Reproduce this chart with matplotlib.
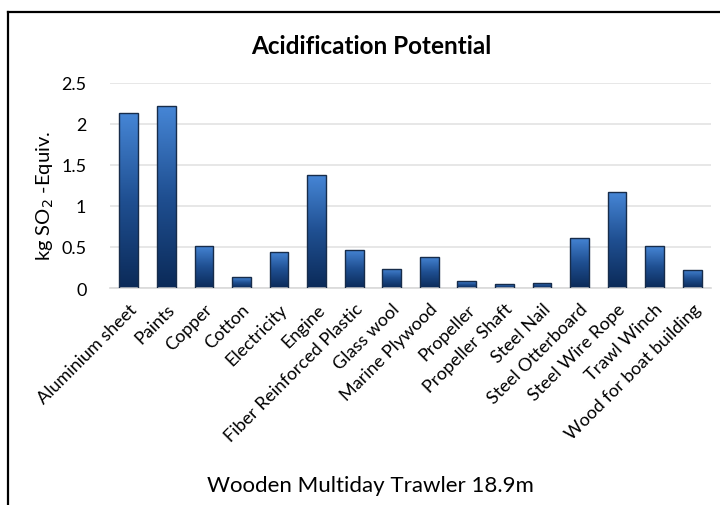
import matplotlib
matplotlib.use("Agg")
import matplotlib.pyplot as plt
import numpy as np
from matplotlib.colors import LinearSegmentedColormap
from matplotlib.lines import Line2D

categories = ["Aluminium sheet", "Paints", "Copper", "Cotton", "Electricity", "Engine",
              "Fiber Reinforced Plastic", "Glass wool", "Marine Plywood", "Propeller",
              "Propeller Shaft", "Steel Nail", "Steel Otterboard", "Steel Wire Rope",
              "Trawl Winch", "Wood for boat building"]
values = [2.13, 2.215, 0.517, 0.134, 0.44, 1.372, 0.468, 0.236, 0.383, 0.081,
          0.045, 0.061, 0.615, 1.165, 0.509, 0.224]
yticks = [0, 0.5, 1, 1.5, 2, 2.5]
yticklabels = ["0", "0.5", "1", "1.5", "2", "2.5"]

plt.rcParams['font.family'] = ['Lato', 'DejaVu Sans']

fig = plt.figure(figsize=(7.2, 5.06), dpi=100)
ax = fig.add_axes([110/720, 1-289/506, 601/720, (289-84)/506])

cmap = LinearSegmentedColormap.from_list("g", ["#0b2a58", "#1f4f91", "#4686d6"])
grad = np.linspace(0, 1, 256).reshape(-1, 1)
x = np.arange(len(categories))
w = 0.5
bars = ax.bar(x, values, width=w, color="none", edgecolor="#172c4a", linewidth=1.0, zorder=3)
for b in bars:
    bx, by = b.get_x(), b.get_y()
    bw, bh = b.get_width(), b.get_height()
    im = ax.imshow(grad, extent=[bx, bx + bw, by, by + bh], origin="lower",
                   cmap=cmap, aspect="auto", zorder=2)
    im.set_clip_path(b)

ax.set_xlim(-0.5, len(categories) - 0.5)
ax.set_ylim(0, 2.5)
ax.set_yticks(yticks)
ax.set_yticklabels(yticklabels, fontsize=13)
ax.set_xticks(x)
ax.set_xticklabels(categories, rotation=45, ha="right", rotation_mode="anchor", fontsize=13)
ax.tick_params(axis="x", length=0, pad=9)
ax.tick_params(axis="y", length=0, pad=17)
ax.grid(axis="y", color="#e3e3e3", linewidth=1.2, zorder=0)
for s in ["top", "right", "left"]:
    ax.spines[s].set_visible(False)
ax.spines["bottom"].set_color("#d9d9d9")
ax.spines["bottom"].set_linewidth(1.2)

fig.text(45/720, 1-196/506, "kg SO$_2$ -Equiv.", rotation=90, ha="center", va="center",
         fontsize=14.5)
fig.text(371/720, 1-47/506, "Acidification Potential", ha="center", va="center",
         fontsize=17.5, fontweight="bold")
fig.text(370/720, 1-486/506, "Wooden Multiday Trawler 18.9m", ha="center", va="center",
         fontsize=16)

# outer frame (cut off at right and bottom)
fig.add_artist(Line2D([8/720, 8/720], [0, 1-13/506], transform=fig.transFigure,
                      color="black", linewidth=1.6))
fig.add_artist(Line2D([8/720, 1], [1-13/506, 1-13/506], transform=fig.transFigure,
                      color="black", linewidth=1.6))

fig.savefig("out.png", dpi=100)
